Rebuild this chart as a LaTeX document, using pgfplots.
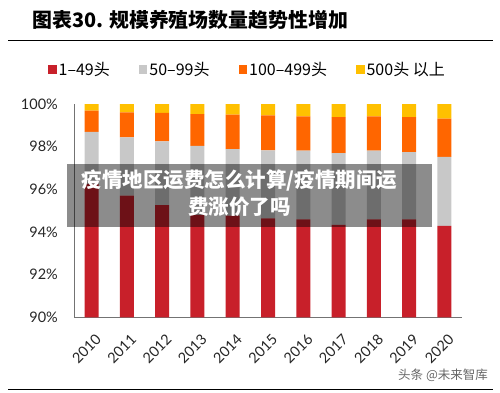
\documentclass[border=0pt]{standalone}
\usepackage{pgfplots}
\pgfplotsset{compat=1.18}
\usepackage{pgfplotstable}
\usepackage{fontspec}
\setmainfont{Lato}
\newfontfamily\cjk{Noto Sans CJK SC}
\definecolor{redc}{RGB}{200,32,42}
\definecolor{grayc}{RGB}{200,200,200}
\definecolor{orangec}{RGB}{255,102,0}
\definecolor{yellowc}{RGB}{255,192,0}
\pgfplotstableread{
x red gray orange yellow
0 96.25 2.44 1.00 0.31
1 95.70 2.74 1.17 0.39
2 95.26 2.99 1.33 0.42
3 94.80 3.24 1.49 0.47
4 94.77 3.12 1.61 0.50
5 94.64 3.19 1.64 0.53
6 94.59 3.22 1.61 0.58
7 94.33 3.37 1.69 0.61
8 94.59 3.23 1.60 0.58
9 94.59 3.15 1.65 0.61
10 94.29 3.23 1.79 0.69
}\data
\begin{document}
\begin{tikzpicture}[x=1pt,y=1pt]
\path[use as bounding box] (0,0) rectangle (500,392);
\node[anchor=base west, font=\cjk\bfseries\fontsize{19.9}{20}\selectfont, inner sep=0pt] at (32,364) {图表30. 规模养殖场数量趋势性增加};
\draw[line width=1.5pt] (8,351.3) -- (493,351.3);
\draw[line width=1.5pt] (8,2.7) -- (493,2.7);
\begin{axis}[
  at={(74pt,74.7pt)}, anchor=south west,
  width=388pt, height=213.3pt, scale only axis,
  ybar stacked, bar width=14pt,
  xmin=-0.5, xmax=10.5, ymin=90, ymax=100,
  xtick={0,...,10},
  xticklabels={2010,2011,2012,2013,2014,2015,2016,2017,2018,2019,2020},
  ytick={90,92,...,100},
  yticklabel={\pgfmathprintnumber{\tick}\%},
  /pgf/number format/assume math mode=true,
  axis x line*=bottom, axis y line*=left,
  axis line style={draw=black!55, line width=0.8pt, -},
  major tick length=0pt, tick style={draw=none},
  ticklabel style={font=\fontsize{14.5}{14.5}\selectfont, text=black!85},
  yticklabel style={anchor=east, inner sep=0pt, xshift=-16pt},
  xticklabel style={inner sep=0pt, xshift=3pt, yshift=-16pt, rotate=45, anchor=north east},
  legend style={at={(0.447,1.163)}, anchor=center, draw=none, fill=none,
    font=\cjk\fontsize{16}{16}\selectfont, legend columns=4,
    nodes={inner sep=2pt},
    /tikz/every even column/.append style={column sep=27pt}},
  legend image code/.code={\fill[#1] (0pt,-4.3pt) rectangle (8.6pt,4.3pt);},
]
\addplot[fill=redc, draw=none] table[x=x,y=red]{\data};
\addlegendentry{1–49头}
\addplot[fill=grayc, draw=none] table[x=x,y=gray]{\data};
\addlegendentry{50–99头}
\addplot[fill=orangec, draw=none] table[x=x,y=orange]{\data};
\addlegendentry{100–499头}
\addplot[fill=yellowc, draw=none] table[x=x,y=yellow]{\data};
\addlegendentry{500头 以上}
\end{axis}
\fill[black, opacity=0.45] (67,165.3) rectangle (432,228);
\node[font=\cjk\bfseries\fontsize{20.5}{26.7}\selectfont, text=white, align=center] at (239.5,198.7) {疫情地区运费怎么计算/疫情期间运\\费涨价了吗};
\node[font=\cjk\fontsize{12.5}{13}\selectfont, text=black!60, anchor=west, inner sep=0pt] at (398,17) {头条 @未来智库};
\end{tikzpicture}
\end{document}
